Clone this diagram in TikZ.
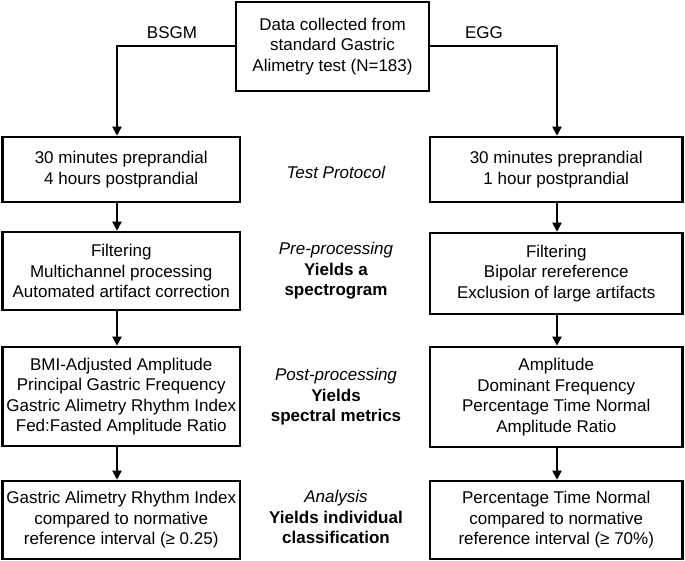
\documentclass[tikz,border=0pt]{standalone}
\usepackage{fontspec}
\setmainfont{Liberation Sans}
\usetikzlibrary{arrows.meta,calc}
\begin{document}
\begin{tikzpicture}[x=1pt,y=-1pt,
  box/.style={draw, line width=2.6pt, align=center, inner sep=0pt, font=\fontsize{17}{20.5}\selectfont},
  lbl/.style={align=center, inner sep=0pt, font=\fontsize{17}{20.5}\selectfont},
  conn/.style={line width=2pt, -{Triangle[width=9pt,length=9pt]}},
]
\useasboundingbox (0,0) rectangle (685,561);
% top
\node[box, minimum width=193pt, minimum height=89pt] (top) at (332.5,46.5) {Data collected from\\standard Gastric\\Alimetry test (N=183)};
% left column
\node[box, minimum width=237.5pt, minimum height=65pt] (l1) at (121.25,169.5) {30 minutes preprandial\\4 hours postprandial};
\node[box, minimum width=237.5pt, minimum height=78pt] (l2) at (121.25,271) {Filtering\\Multichannel processing\\Automated artifact correction};
\node[box, minimum width=237.5pt, minimum height=99pt] (l3) at (121.25,396.5) {BMI-Adjusted Amplitude\\Principal Gastric Frequency\\Gastric Alimetry Rhythm Index\\Fed:Fasted Amplitude Ratio};
\node[box, minimum width=237.5pt, minimum height=78pt] (l4) at (121.25,520) {Gastric Alimetry Rhythm Index\\compared to normative\\reference interval (≥ 0.25)};
% right column
\node[box, minimum width=252.5pt, minimum height=65pt] (r1) at (556.25,169.5) {30 minutes preprandial\\1 hour postprandial};
\node[box, minimum width=252.5pt, minimum height=81pt] (r2) at (556.25,273.5) {Filtering\\Bipolar rereference\\Exclusion of large artifacts};
\node[box, minimum width=252.5pt, minimum height=100pt] (r3) at (556.25,397) {Amplitude\\Dominant Frequency\\Percentage Time Normal\\Amplitude Ratio};
\node[box, minimum width=252.5pt, minimum height=78pt] (r4) at (556.25,520) {Percentage Time Normal\\compared to normative\\reference interval (≥ 70\%)};
% middle labels
\node[lbl] (m1) at (336,172) {\textit{Test Protocol}};
\node[lbl] (m2) at (336,271) {\textit{Pre-processing}\\\textbf{Yields a}\\\textbf{spectrogram}};
\node[lbl] (m3) at (336,397) {\textit{Post-processing}\\\textbf{Yields}\\\textbf{spectral metrics}};
\node[lbl] (m4) at (336,517) {\textit{Analysis}\\\textbf{Yields individual}\\\textbf{classification}};
% branch labels
\node[lbl] (bsgm) at (172,33) {BSGM};
\node[lbl] (egg) at (484,33) {EGG};
% connectors
\coordinate (lx) at (117,0);
\coordinate (rx) at (557,0);
\draw[conn] (top.west) -| (lx |- l1.north);
\draw[conn] (top.east) -| (rx |- r1.north);
\draw[conn] (lx |- l1.south) -- (lx |- l2.north);
\draw[conn] (lx |- l2.south) -- (lx |- l3.north);
\draw[conn] (lx |- l3.south) -- (lx |- l4.north);
\draw[conn] (rx |- r1.south) -- (rx |- r2.north);
\draw[conn] (rx |- r2.south) -- (rx |- r3.north);
\draw[conn] (rx |- r3.south) -- (rx |- r4.north);
\end{tikzpicture}
\end{document}
